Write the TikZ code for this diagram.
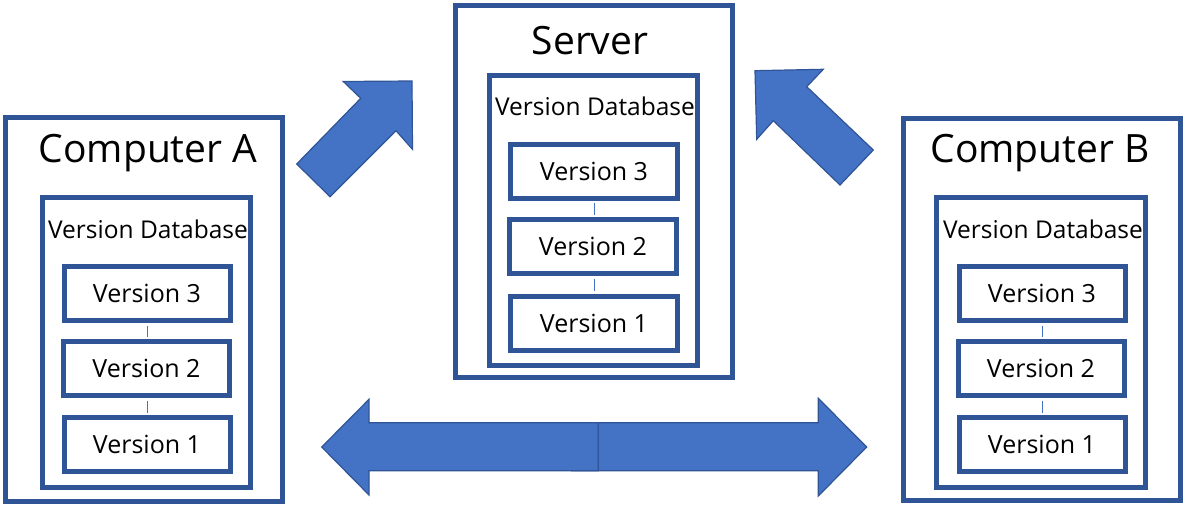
\documentclass[tikz,border=0pt]{standalone}
\usepackage{fontspec}
\setmainfont{Open Sans}
\definecolor{frameblue}{HTML}{2F5597}
\definecolor{arrowblue}{HTML}{4472C4}
\tikzset{
  hostbox/.style={draw=frameblue, line width=5pt, inner sep=0pt, minimum width=277pt},
  dbbox/.style={draw=frameblue, line width=5pt, inner sep=0pt, minimum width=208pt, minimum height=290pt},
  verbox/.style={draw=frameblue, line width=5pt, inner sep=0pt, minimum width=166pt, minimum height=54pt,
                 font=\fontsize{25}{29}\selectfont},
  titletext/.style={inner sep=0pt, font=\fontsize{39}{45}\selectfont},
  dbtext/.style={inner sep=0pt, font=\fontsize{24.5}{28}\selectfont},
  link/.style={draw=arrowblue, line width=1pt, shorten <=2.5pt, shorten >=2.5pt},
  bigarrow/.style={fill=arrowblue, draw=frameblue, line width=1.2pt, line join=miter}
}
\begin{document}
\begin{tikzpicture}[x=1pt, y=-1pt]
\useasboundingbox (0,0) rectangle (1185,508);

% Computer A
\node[hostbox, minimum height=383.5pt] (hostA) at (144,309.25) {};
\node[titletext] (titleA) at (148,153.5) {Computer A};
\node[dbbox] (dbA) at (146.5,342.5) {};
\node[dbtext] (dbtA) at (148,229.5) {Version Database};
\node[verbox] (a3) at (147,293.5) {Version 3};
\node[verbox] (a2) at (146.5,368.5) {Version 2};
\node[verbox] (a1) at (147,444.5) {Version 1};
\draw[link] (a3.south) -- (a3.south |- a2.north);
\draw[link] (a2.south -| a3.south) -- (a3.south |- a1.north);

% Server
\node[hostbox, minimum height=372pt] (server) at (593.5,191.5) {};
\node[titletext] (titleS) at (590,41) {Server};
\node[dbbox] (dbS) at (593.5,220.5) {};
\node[dbtext] (dbtS) at (595,106) {Version Database};
\node[verbox, minimum width=167pt] (s3) at (594,171) {Version 3};
\node[verbox, minimum width=167pt] (s2) at (593,246.5) {Version 2};
\node[verbox, minimum width=167pt] (s1) at (594,323) {Version 1};
\draw[link] (s3.south) -- (s3.south |- s2.north);
\draw[link] (s2.south -| s3.south) -- (s3.south |- s1.north);

% Computer B
\node[hostbox, minimum height=382pt] (hostB) at (1041.6,309.4) {};
\node[titletext] (titleB) at (1040,153.5) {Computer B};
\node[dbbox, minimum width=209pt] (dbB) at (1041.25,342.5) {};
\node[dbtext] (dbtB) at (1043,229.5) {Version Database};
\node[verbox] (b3) at (1042,293.5) {Version 3};
\node[verbox] (b2) at (1041,368.5) {Version 2};
\node[verbox] (b1) at (1042,444.5) {Version 1};
\draw[link] (b3.south) -- (b3.south |- b2.north);
\draw[link] (b2.south -| b3.south) -- (b3.south |- b1.north);

% push from Computer A up to the server
\draw[bigarrow] (412,81) -- (343.3,81.5) -- (360.7,98.3) -- (296.7,164) -- (330,196.7)
  -- (396,130.7) -- (412.5,149.3) -- cycle;
% push from Computer B up to the server
\draw[bigarrow] (755,70.7) -- (823.3,69.3) -- (806.7,86.7) -- (873.3,150) -- (840,185)
  -- (773.3,120.7) -- (756.7,139.3) -- cycle;

% exchange between the two computers: two overlapping block arrows
\draw[bigarrow] (571.7,422.7) -- (818.3,422.7) -- (818.3,398.3) -- (866.7,447) -- (818.3,496)
  -- (818.3,470.7) -- (571.7,470.7) -- cycle;
\draw[bigarrow] (598.3,422.7) -- (369,422.7) -- (369,399.3) -- (321.7,447) -- (369,495)
  -- (369,470.7) -- (598.3,470.7) -- cycle;
\end{tikzpicture}
\end{document}
